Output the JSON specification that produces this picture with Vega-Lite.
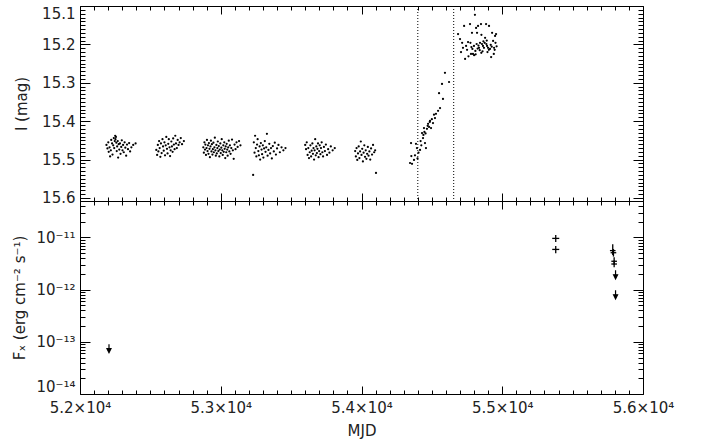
{
  "$schema": "https://vega.github.io/schema/vega-lite/v6.json",
  "autosize": {"type": "pad"},
  "padding": {"left": 12, "top": 2, "right": 0, "bottom": 0},
  "spacing": 0,
  "bounds": "flush",
  "background": "white",
  "config": {
    "view": {"stroke": "black", "strokeWidth": 1},
    "concat": {"spacing": 0},
    "axis": {"domain": false, "grid": false, "labelFont": "DejaVu Sans", "labelFontSize": 15, "labelColor": "#222", "titleFont": "DejaVu Sans", "titleFontSize": 15, "titleFontWeight": "normal", "titleColor": "#222", "tickColor": "black", "labelFlush": false, "labelOverlap": false}
  },
  "datasets": {
    "opt": [
      {"mjd":52188,"mag":15.462},{"mjd":52195,"mag":15.471},{"mjd":52201,"mag":15.455},{"mjd":52204,"mag":15.480},{"mjd":52210,"mag":15.468},{"mjd":52214,"mag":15.492},{"mjd":52219,"mag":15.476},{"mjd":52222,"mag":15.449},{"mjd":52228,"mag":15.458},{"mjd":52231,"mag":15.487},{"mjd":52236,"mag":15.463},{"mjd":52240,"mag":15.444},{"mjd":52243,"mag":15.470},{"mjd":52247,"mag":15.452},{"mjd":52250,"mag":15.438},{"mjd":52252,"mag":15.447},{"mjd":52255,"mag":15.441},{"mjd":52258,"mag":15.456},{"mjd":52261,"mag":15.478},{"mjd":52264,"mag":15.466},{"mjd":52268,"mag":15.452},{"mjd":52271,"mag":15.495},{"mjd":52275,"mag":15.460},{"mjd":52279,"mag":15.474},{"mjd":52284,"mag":15.458},{"mjd":52288,"mag":15.485},{"mjd":52293,"mag":15.467},{"mjd":52297,"mag":15.450},{"mjd":52302,"mag":15.476},{"mjd":52306,"mag":15.462},{"mjd":52311,"mag":15.481},{"mjd":52317,"mag":15.455},{"mjd":52322,"mag":15.469},{"mjd":52328,"mag":15.490},{"mjd":52334,"mag":15.461},{"mjd":52341,"mag":15.473},{"mjd":52349,"mag":15.457},{"mjd":52356,"mag":15.479},{"mjd":52365,"mag":15.468},{"mjd":52378,"mag":15.462},{"mjd":52395,"mag":15.458},
      {"mjd":52542,"mag":15.475},{"mjd":52548,"mag":15.488},{"mjd":52553,"mag":15.462},{"mjd":52557,"mag":15.479},{"mjd":52562,"mag":15.452},{"mjd":52566,"mag":15.470},{"mjd":52571,"mag":15.493},{"mjd":52575,"mag":15.458},{"mjd":52580,"mag":15.483},{"mjd":52586,"mag":15.447},{"mjd":52590,"mag":15.466},{"mjd":52595,"mag":15.477},{"mjd":52600,"mag":15.455},{"mjd":52604,"mag":15.489},{"mjd":52609,"mag":15.463},{"mjd":52613,"mag":15.441},{"mjd":52618,"mag":15.472},{"mjd":52622,"mag":15.484},{"mjd":52627,"mag":15.459},{"mjd":52631,"mag":15.447},{"mjd":52636,"mag":15.468},{"mjd":52640,"mag":15.491},{"mjd":52644,"mag":15.476},{"mjd":52649,"mag":15.453},{"mjd":52653,"mag":15.466},{"mjd":52658,"mag":15.480},{"mjd":52662,"mag":15.445},{"mjd":52667,"mag":15.461},{"mjd":52672,"mag":15.473},{"mjd":52677,"mag":15.438},{"mjd":52682,"mag":15.458},{"mjd":52688,"mag":15.470},{"mjd":52694,"mag":15.449},{"mjd":52700,"mag":15.462},{"mjd":52708,"mag":15.455},{"mjd":52716,"mag":15.444},{"mjd":52725,"mag":15.460},{"mjd":52738,"mag":15.452},
      {"mjd":52876,"mag":15.468},{"mjd":52880,"mag":15.482},{"mjd":52884,"mag":15.455},{"mjd":52888,"mag":15.474},{"mjd":52891,"mag":15.461},{"mjd":52895,"mag":15.488},{"mjd":52899,"mag":15.470},{"mjd":52902,"mag":15.449},{"mjd":52906,"mag":15.478},{"mjd":52909,"mag":15.463},{"mjd":52913,"mag":15.485},{"mjd":52916,"mag":15.457},{"mjd":52920,"mag":15.472},{"mjd":52923,"mag":15.494},{"mjd":52927,"mag":15.466},{"mjd":52930,"mag":15.451},{"mjd":52934,"mag":15.479},{"mjd":52937,"mag":15.460},{"mjd":52941,"mag":15.487},{"mjd":52944,"mag":15.473},{"mjd":52948,"mag":15.456},{"mjd":52951,"mag":15.481},{"mjd":52955,"mag":15.468},{"mjd":52958,"mag":15.443},{"mjd":52962,"mag":15.476},{"mjd":52965,"mag":15.490},{"mjd":52969,"mag":15.462},{"mjd":52972,"mag":15.484},{"mjd":52976,"mag":15.470},{"mjd":52979,"mag":15.453},{"mjd":52983,"mag":15.478},{"mjd":52986,"mag":15.465},{"mjd":52990,"mag":15.492},{"mjd":52993,"mag":15.474},{"mjd":52997,"mag":15.458},{"mjd":53000,"mag":15.483},{"mjd":53004,"mag":15.469},{"mjd":53007,"mag":15.447},{"mjd":53011,"mag":15.476},{"mjd":53014,"mag":15.488},{"mjd":53018,"mag":15.463},{"mjd":53021,"mag":15.480},{"mjd":53025,"mag":15.455},{"mjd":53028,"mag":15.472},{"mjd":53032,"mag":15.496},{"mjd":53035,"mag":15.466},{"mjd":53039,"mag":15.481},{"mjd":53042,"mag":15.459},{"mjd":53046,"mag":15.474},{"mjd":53049,"mag":15.490},{"mjd":53053,"mag":15.468},{"mjd":53057,"mag":15.451},{"mjd":53061,"mag":15.479},{"mjd":53065,"mag":15.463},{"mjd":53070,"mag":15.485},{"mjd":53075,"mag":15.470},{"mjd":53080,"mag":15.448},{"mjd":53086,"mag":15.476},{"mjd":53092,"mag":15.498},{"mjd":53098,"mag":15.461},{"mjd":53105,"mag":15.473},{"mjd":53112,"mag":15.455},{"mjd":53120,"mag":15.467},{"mjd":53130,"mag":15.452},{"mjd":53140,"mag":15.463},
      {"mjd":53230,"mag":15.540},{"mjd":53235,"mag":15.455},{"mjd":53240,"mag":15.482},{"mjd":53244,"mag":15.438},{"mjd":53249,"mag":15.470},{"mjd":53253,"mag":15.492},{"mjd":53258,"mag":15.461},{"mjd":53262,"mag":15.447},{"mjd":53267,"mag":15.478},{"mjd":53271,"mag":15.489},{"mjd":53276,"mag":15.466},{"mjd":53280,"mag":15.500},{"mjd":53285,"mag":15.457},{"mjd":53290,"mag":15.474},{"mjd":53294,"mag":15.486},{"mjd":53299,"mag":15.463},{"mjd":53303,"mag":15.495},{"mjd":53308,"mag":15.471},{"mjd":53313,"mag":15.452},{"mjd":53318,"mag":15.480},{"mjd":53323,"mag":15.468},{"mjd":53328,"mag":15.433},{"mjd":53333,"mag":15.490},{"mjd":53339,"mag":15.475},{"mjd":53345,"mag":15.459},{"mjd":53351,"mag":15.484},{"mjd":53357,"mag":15.470},{"mjd":53363,"mag":15.497},{"mjd":53370,"mag":15.465},{"mjd":53377,"mag":15.479},{"mjd":53384,"mag":15.456},{"mjd":53392,"mag":15.487},{"mjd":53400,"mag":15.471},{"mjd":53410,"mag":15.462},{"mjd":53420,"mag":15.481},{"mjd":53432,"mag":15.468},{"mjd":53445,"mag":15.476},{"mjd":53460,"mag":15.470},
      {"mjd":53600,"mag":15.462},{"mjd":53606,"mag":15.473},{"mjd":53611,"mag":15.455},{"mjd":53617,"mag":15.488},{"mjd":53622,"mag":15.470},{"mjd":53627,"mag":15.496},{"mjd":53632,"mag":15.481},{"mjd":53637,"mag":15.463},{"mjd":53642,"mag":15.492},{"mjd":53646,"mag":15.477},{"mjd":53651,"mag":15.458},{"mjd":53655,"mag":15.485},{"mjd":53659,"mag":15.470},{"mjd":53663,"mag":15.500},{"mjd":53667,"mag":15.476},{"mjd":53671,"mag":15.447},{"mjd":53675,"mag":15.489},{"mjd":53679,"mag":15.466},{"mjd":53683,"mag":15.483},{"mjd":53687,"mag":15.472},{"mjd":53691,"mag":15.458},{"mjd":53695,"mag":15.494},{"mjd":53699,"mag":15.478},{"mjd":53703,"mag":15.463},{"mjd":53708,"mag":15.486},{"mjd":53712,"mag":15.470},{"mjd":53717,"mag":15.455},{"mjd":53722,"mag":15.481},{"mjd":53727,"mag":15.492},{"mjd":53733,"mag":15.467},{"mjd":53740,"mag":15.478},{"mjd":53747,"mag":15.461},{"mjd":53755,"mag":15.488},{"mjd":53763,"mag":15.473},{"mjd":53772,"mag":15.482},{"mjd":53782,"mag":15.466},{"mjd":53795,"mag":15.476},{"mjd":53810,"mag":15.470},
      {"mjd":53955,"mag":15.478},{"mjd":53960,"mag":15.492},{"mjd":53965,"mag":15.470},{"mjd":53970,"mag":15.501},{"mjd":53975,"mag":15.484},{"mjd":53980,"mag":15.466},{"mjd":53985,"mag":15.496},{"mjd":53990,"mag":15.479},{"mjd":53995,"mag":15.453},{"mjd":54000,"mag":15.488},{"mjd":54005,"mag":15.472},{"mjd":54010,"mag":15.505},{"mjd":54015,"mag":15.482},{"mjd":54020,"mag":15.463},{"mjd":54025,"mag":15.493},{"mjd":54030,"mag":15.476},{"mjd":54035,"mag":15.498},{"mjd":54040,"mag":15.485},{"mjd":54045,"mag":15.467},{"mjd":54050,"mag":15.490},{"mjd":54056,"mag":15.479},{"mjd":54062,"mag":15.500},{"mjd":54068,"mag":15.471},{"mjd":54075,"mag":15.487},{"mjd":54082,"mag":15.462},{"mjd":54090,"mag":15.481},{"mjd":54097,"mag":15.476},{"mjd":54103,"mag":15.535},
      {"mjd":54345,"mag":15.509},{"mjd":54352,"mag":15.457},{"mjd":54354,"mag":15.491},{"mjd":54359,"mag":15.511},{"mjd":54373,"mag":15.501},{"mjd":54380,"mag":15.489},{"mjd":54387,"mag":15.459},{"mjd":54394,"mag":15.470},{"mjd":54398,"mag":15.497},{"mjd":54405,"mag":15.482},{"mjd":54416,"mag":15.475},{"mjd":54420,"mag":15.452},{"mjd":54425,"mag":15.463},{"mjd":54430,"mag":15.431},{"mjd":54437,"mag":15.444},{"mjd":54440,"mag":15.436},{"mjd":54444,"mag":15.418},{"mjd":54447,"mag":15.428},{"mjd":54451,"mag":15.457},{"mjd":54455,"mag":15.432},{"mjd":54458,"mag":15.470},{"mjd":54465,"mag":15.420},{"mjd":54470,"mag":15.412},{"mjd":54473,"mag":15.407},{"mjd":54480,"mag":15.415},{"mjd":54485,"mag":15.402},{"mjd":54487,"mag":15.399},{"mjd":54494,"mag":15.418},{"mjd":54500,"mag":15.395},{"mjd":54508,"mag":15.405},{"mjd":54515,"mag":15.383},{"mjd":54522,"mag":15.392},{"mjd":54529,"mag":15.381},{"mjd":54544,"mag":15.373},{"mjd":54551,"mag":15.327},{"mjd":54558,"mag":15.366},{"mjd":54572,"mag":15.303},{"mjd":54579,"mag":15.342},{"mjd":54593,"mag":15.274},{"mjd":54622,"mag":15.298},
      {"mjd":54686,"mag":15.173},{"mjd":54700,"mag":15.186},{"mjd":54707,"mag":15.220},{"mjd":54715,"mag":15.196},{"mjd":54721,"mag":15.209},{"mjd":54729,"mag":15.152},{"mjd":54736,"mag":15.238},{"mjd":54743,"mag":15.204},{"mjd":54750,"mag":15.214},{"mjd":54757,"mag":15.194},{"mjd":54760,"mag":15.231},{"mjd":54771,"mag":15.147},{"mjd":54774,"mag":15.196},{"mjd":54778,"mag":15.225},{"mjd":54781,"mag":15.207},{"mjd":54785,"mag":15.170},{"mjd":54788,"mag":15.212},{"mjd":54792,"mag":15.225},{"mjd":54799,"mag":15.204},{"mjd":54800,"mag":15.228},{"mjd":54806,"mag":15.123},{"mjd":54809,"mag":15.217},{"mjd":54811,"mag":15.226},{"mjd":54814,"mag":15.157},{"mjd":54818,"mag":15.199},{"mjd":54821,"mag":15.170},{"mjd":54825,"mag":15.211},{"mjd":54828,"mag":15.152},{"mjd":54831,"mag":15.203},{"mjd":54835,"mag":15.209},{"mjd":54840,"mag":15.215},{"mjd":54842,"mag":15.196},{"mjd":54849,"mag":15.147},{"mjd":54851,"mag":15.222},{"mjd":54852,"mag":15.175},{"mjd":54856,"mag":15.199},{"mjd":54860,"mag":15.218},{"mjd":54863,"mag":15.204},{"mjd":54866,"mag":15.192},{"mjd":54870,"mag":15.209},{"mjd":54875,"mag":15.196},{"mjd":54878,"mag":15.183},{"mjd":54885,"mag":15.147},{"mjd":54887,"mag":15.199},{"mjd":54890,"mag":15.190},{"mjd":54892,"mag":15.204},{"mjd":54895,"mag":15.220},{"mjd":54899,"mag":15.209},{"mjd":54905,"mag":15.214},{"mjd":54906,"mag":15.152},{"mjd":54913,"mag":15.212},{"mjd":54918,"mag":15.201},{"mjd":54921,"mag":15.233},{"mjd":54925,"mag":15.206},{"mjd":54928,"mag":15.170},{"mjd":54935,"mag":15.191},{"mjd":54940,"mag":15.225},{"mjd":54942,"mag":15.209},{"mjd":54946,"mag":15.214},{"mjd":54949,"mag":15.178},{"mjd":54952,"mag":15.196},{"mjd":54956,"mag":15.173},{"mjd":54960,"mag":15.205}
    ],
    "det": [
      {"mjd":55380,"mjd_lo":55355,"mjd_hi":55405,"flux":9.6e-12,"flux_lo":8.2e-12,"flux_hi":1.12e-11},
      {"mjd":55380,"mjd_lo":55355,"mjd_hi":55405,"flux":5.9e-12,"flux_lo":5.0e-12,"flux_hi":6.9e-12},
      {"mjd":55785,"mjd_lo":55765,"mjd_hi":55805,"flux":5.6e-12,"flux_lo":4.6e-12,"flux_hi":7.4e-12},
      {"mjd":55790,"mjd_lo":55770,"mjd_hi":55810,"flux":5.1e-12,"flux_lo":4.3e-12,"flux_hi":6.0e-12},
      {"mjd":55795,"mjd_lo":55775,"mjd_hi":55815,"flux":3.5e-12,"flux_lo":3.0e-12,"flux_hi":4.2e-12},
      {"mjd":55795,"mjd_lo":55775,"mjd_hi":55815,"flux":3.1e-12,"flux_lo":2.7e-12,"flux_hi":3.6e-12}
    ],
    "ul": [
      {"mjd":52206,"flux":9e-14},
      {"mjd":55805,"flux":2.35e-12},
      {"mjd":55805,"flux":9.7e-13}
    ]
  },
  "vconcat": [
    {
      "width": 563,
      "height": 195,
      "layer": [
        {
          "data": {"name": "opt"},
          "mark": {"type": "point", "filled": true, "size": 5, "color": "black", "opacity": 1},
          "encoding": {
            "x": {"field": "mjd", "type": "quantitative", "scale": {"domain": [52000, 56000], "nice": false, "zero": false},
              "axis": {"orient": "bottom", "labels": false, "title": null, "tickCount": 40,
                "tickSize": {"condition": {"test": "datum.value % 1000 === 0", "value": -8}, "value": -4}}},
            "y": {"field": "mag", "type": "quantitative", "scale": {"domain": [15.1, 15.608], "reverse": true, "nice": false, "zero": false},
              "axis": {"orient": "left", "title": "I (mag)", "tickCount": 50, "labelPadding": 15, "titlePadding": 12, "labelFlush": true,
                "tickSize": {"condition": {"test": "abs(datum.value*10 - round(datum.value*10)) < 0.001", "value": -10}, "value": -5},
                "labelExpr": "abs(datum.value*10 - round(datum.value*10)) < 0.001 ? format(datum.value, '.1f') : ''"}}
          }
        },
        {
          "data": {"name": "opt"},
          "mark": {"type": "point", "opacity": 0},
          "encoding": {
            "x": {"field": "mjd", "type": "quantitative", "scale": {"domain": [52000, 56000], "nice": false, "zero": false},
              "axis": {"orient": "top", "labels": false, "title": null, "tickCount": 40,
                "tickSize": {"condition": {"test": "datum.value % 1000 === 0", "value": -8}, "value": -4}}},
            "y": {"field": "mag", "type": "quantitative", "scale": {"domain": [15.1, 15.608], "reverse": true, "nice": false, "zero": false},
              "axis": {"orient": "right", "labels": false, "title": null, "tickCount": 50,
                "tickSize": {"condition": {"test": "abs(datum.value*10 - round(datum.value*10)) < 0.001", "value": -10}, "value": -5}}}
          }
        },
        {
          "data": {"values": [{"mjd": 54400}, {"mjd": 54655}]},
          "mark": {"type": "rule", "color": "black", "strokeWidth": 1, "strokeDash": [1, 2]},
          "encoding": {
            "x": {"field": "mjd", "type": "quantitative", "axis": null}
          }
        }
      ],
      "resolve": {"axis": {"x": "independent", "y": "independent"}}
    },
    {
      "width": 563,
      "height": 193,
      "layer": [
        {
          "data": {"name": "det"},
          "mark": {"type": "rule", "color": "black", "strokeWidth": 1.3},
          "encoding": {
            "x": {"field": "mjd", "type": "quantitative", "scale": {"domain": [52000, 56000], "nice": false, "zero": false},
              "axis": {"orient": "bottom", "title": "MJD", "tickCount": 40, "labelPadding": 14, "titlePadding": 4,
                "tickSize": {"condition": {"test": "datum.value % 1000 === 0", "value": -8}, "value": -4},
                "labelExpr": "datum.value % 1000 === 0 ? format(datum.value / 10000, '.1f') + '×10⁴' : ''"}},
            "y": {"field": "flux_lo", "type": "quantitative", "scale": {"type": "log", "domain": [1e-14, 5e-11], "nice": false},
              "axis": {"orient": "left", "title": "Fₓ (erg cm⁻² s⁻¹)", "tickCount": 40, "labelPadding": 15, "titlePadding": 8, "labelFlush": true,
                "tickSize": {"condition": {"test": "abs(log(datum.value)/LN10 - round(log(datum.value)/LN10)) < 0.001", "value": -10}, "value": -5},
                "labelExpr": "abs(log(datum.value)/LN10 - round(log(datum.value)/LN10)) < 0.001 ? (round(log(datum.value)/LN10) == -11 ? '10⁻¹¹' : round(log(datum.value)/LN10) == -12 ? '10⁻¹²' : round(log(datum.value)/LN10) == -13 ? '10⁻¹³' : '10⁻¹⁴') : ''"}},
            "y2": {"field": "flux_hi"}
          }
        },
        {
          "data": {"name": "det"},
          "mark": {"type": "rule", "color": "black", "strokeWidth": 1.3},
          "encoding": {
            "x": {"field": "mjd_lo", "type": "quantitative", "scale": {"domain": [52000, 56000], "nice": false, "zero": false},
              "axis": {"orient": "top", "labels": false, "title": null, "tickCount": 40,
                "tickSize": {"condition": {"test": "datum.value % 1000 === 0", "value": -8}, "value": -4}}},
            "x2": {"field": "mjd_hi"},
            "y": {"field": "flux", "type": "quantitative", "scale": {"type": "log", "domain": [1e-14, 5e-11], "nice": false},
              "axis": {"orient": "right", "labels": false, "title": null, "tickCount": 40,
                "tickSize": {"condition": {"test": "abs(log(datum.value)/LN10 - round(log(datum.value)/LN10)) < 0.001", "value": -10}, "value": -5}}}
          }
        },
        {
          "data": {"name": "ul"},
          "mark": {"type": "point", "shape": "M0,0L0,1.2M-0.4,0.9L0,1.7L0.4,0.9Z", "size": 100, "filled": true, "color": "black", "stroke": "black", "strokeWidth": 1.2, "opacity": 1},
          "encoding": {
            "x": {"field": "mjd", "type": "quantitative", "axis": null},
            "y": {"field": "flux", "type": "quantitative", "scale": {"type": "log"}, "axis": null}
          }
        }
      ],
      "resolve": {"axis": {"x": "independent", "y": "independent"}}
    }
  ]
}
